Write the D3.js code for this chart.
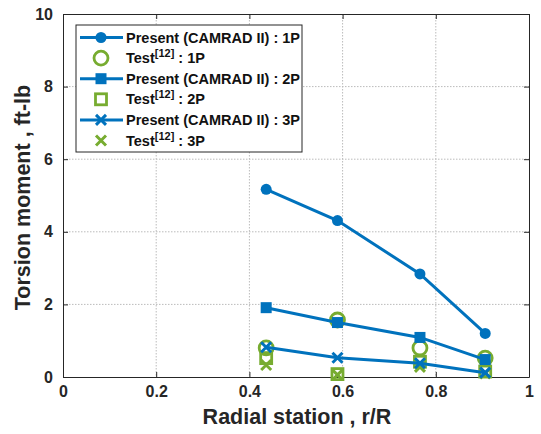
<!DOCTYPE html>
<html>
<head>
<meta charset="utf-8">
<script src="https://cdn.jsdelivr.net/npm/d3@7"></script>
<style>
  body { margin: 0; background: #fff; }
  svg { font-family: "Liberation Sans", Arial, sans-serif; font-weight: bold; }
</style>
</head>
<body>
<svg id="chart" width="541" height="434"></svg>
<script>
// radial stations
const stations = [0.436, 0.589, 0.766, 0.906];

// present (CAMRAD II)
const present1P = [5.17, 4.31, 2.84, 1.20];
const present2P = [1.91, 1.50, 1.09, 0.48];
const present3P = [0.82, 0.53, 0.38, 0.12];

// test [12]
const test1P = [0.80, 1.57, 0.80, 0.52];
const test2P = [0.52, 0.08, 0.42, 0.15];
const test3P = [0.33, 0.06, 0.28, 0.10];

const xTicks = [0, 0.2, 0.4, 0.6, 0.8, 1];
const yTicks = [0, 2, 4, 6, 8, 10];

const blue = '#0072BD';
const green = '#77AC30';

const svg = d3.select('#chart');
const margin = {left: 63, top: 14, right: 12, bottom: 57};
const width = 541 - margin.left - margin.right;
const height = 434 - margin.top - margin.bottom;

const x = d3.scaleLinear().domain([0, 1]).range([0, width]);
const y = d3.scaleLinear().domain([0, 10]).range([height, 0]);

const g = svg.append('g').attr('transform', `translate(${margin.left},${margin.top})`);

// grid
g.selectAll('line.gx').data(xTicks.slice(1, -1)).enter().append('line')
    .attr('x1', d => x(d)).attr('x2', d => x(d))
    .attr('y1', 0).attr('y2', height)
    .attr('stroke', '#bbb').attr('stroke-dasharray', '1.5,1.5').attr('stroke-width', 1);
g.selectAll('line.gy').data(yTicks.slice(1, -1)).enter().append('line')
    .attr('y1', d => y(d)).attr('y2', d => y(d))
    .attr('x1', 0).attr('x2', width)
    .attr('stroke', '#bbb').attr('stroke-dasharray', '1.5,1.5').attr('stroke-width', 1);

// axes with inward ticks
const xAxis = g.append('g').attr('transform', `translate(0,${height})`)
    .call(d3.axisBottom(x).tickValues(xTicks).tickFormat(d3.format('')).tickSizeInner(-5).tickSizeOuter(0).tickPadding(9));
const yAxis = g.append('g')
    .call(d3.axisLeft(y).tickValues(yTicks).tickSizeInner(-5).tickSizeOuter(0).tickPadding(10));
const xTop = g.append('g')
    .call(d3.axisTop(x).tickValues(xTicks).tickFormat('').tickSizeInner(-5).tickSizeOuter(0));
const yRight = g.append('g').attr('transform', `translate(${width},0)`)
    .call(d3.axisRight(y).tickValues(yTicks).tickFormat('').tickSizeInner(-5).tickSizeOuter(0));

[xAxis, yAxis, xTop, yRight].forEach(a => {
    a.select('.domain').attr('stroke', '#262626').attr('stroke-width', 1);
    a.selectAll('.tick line').attr('stroke', '#262626');
    a.selectAll('.tick text').attr('fill', '#262626')
        .style('font-size', '16px').style('font-weight', 'bold')
        .style('font-family', '"Liberation Sans", Arial, sans-serif');
});

// axis titles
svg.append('text')
    .attr('x', margin.left + width / 2 + 1).attr('y', 424)
    .attr('text-anchor', 'middle').attr('fill', '#262626')
    .style('font-size', '21.5px')
    .text('Radial station , r/R');
svg.append('text')
    .attr('transform', `translate(30,${margin.top + height / 2 + 2}) rotate(-90)`)
    .attr('text-anchor', 'middle').attr('fill', '#262626')
    .style('font-size', '21.5px')
    .text('Torsion moment , ft-lb');

// marker drawing
function marker(sel, type, color, size) {
    if (type === 'dot') {
        sel.append('circle').attr('r', 5.5).attr('fill', color);
    } else if (type === 'ring') {
        sel.append('circle').attr('r', 7).attr('fill', 'none').attr('stroke', color).attr('stroke-width', 2.8);
    } else if (type === 'fsquare') {
        sel.append('rect').attr('x', -5.5).attr('y', -5.5).attr('width', 11).attr('height', 11).attr('fill', color);
    } else if (type === 'osquare') {
        sel.append('rect').attr('x', -5.5).attr('y', -5.5).attr('width', 11).attr('height', 11)
            .attr('fill', 'none').attr('stroke', color).attr('stroke-width', 2.8);
    } else if (type === 'cross') {
        const s = size || 5;
        sel.append('path').attr('d', `M${-s},${-s}L${s},${s}M${-s},${s}L${s},${-s}`)
            .attr('stroke', color).attr('stroke-width', 3).attr('fill', 'none');
    }
}

const line = d3.line().x(d => x(d[0])).y(d => y(d[1]));

const series = [
    {vals: test3P, type: 'cross', color: green, line: false, label: 'Test', tag: '3P'},
    {vals: test2P, type: 'osquare', color: green, line: false, label: 'Test', tag: '2P'},
    {vals: test1P, type: 'ring', color: green, line: false, label: 'Test', tag: '1P'},
    {vals: present3P, type: 'cross', color: blue, line: true, label: 'Present (CAMRAD II)', tag: '3P'},
    {vals: present2P, type: 'fsquare', color: blue, line: true, label: 'Present (CAMRAD II)', tag: '2P'},
    {vals: present1P, type: 'dot', color: blue, line: true, label: 'Present (CAMRAD II)', tag: '1P'}
];

series.forEach(s => {
    const pts = stations.map((r, i) => [r, s.vals[i]]);
    if (s.line) {
        g.append('path').datum(pts).attr('d', line)
            .attr('fill', 'none').attr('stroke', s.color).attr('stroke-width', 3);
    }
    pts.forEach(p => {
        const m = g.append('g').attr('transform', `translate(${x(p[0])},${y(p[1])})`);
        marker(m, s.type, s.color);
    });
});

// legend
const legendOrder = [5, 2, 4, 1, 3, 0].map(i => series[i]);
const lg = svg.append('g');
lg.append('rect').attr('x', 76).attr('y', 25).attr('width', 226).attr('height', 127)
    .attr('fill', '#fff').attr('stroke', '#262626').attr('stroke-width', 1);
legendOrder.forEach((s, i) => {
    const cy = 37.5 + i * 20.6;
    const row = lg.append('g');
    if (s.line) {
        row.append('line').attr('x1', 80).attr('x2', 123).attr('y1', cy).attr('y2', cy)
            .attr('stroke', s.color).attr('stroke-width', 3);
    }
    marker(row.append('g').attr('transform', `translate(101,${cy})`), s.type, s.color);
    const t = row.append('text').attr('x', 126).attr('y', cy + 5).attr('fill', '#111')
        .style('font-size', '14.5px');
    if (s.line) {
        t.text(`${s.label} : ${s.tag}`);
    } else {
        t.append('tspan').text('Test');
        t.append('tspan').attr('dy', -6).style('font-size', '11px').text('[12]');
        t.append('tspan').attr('dy', 6).text(` : ${s.tag}`);
    }
});
</script>
</body>
</html>
